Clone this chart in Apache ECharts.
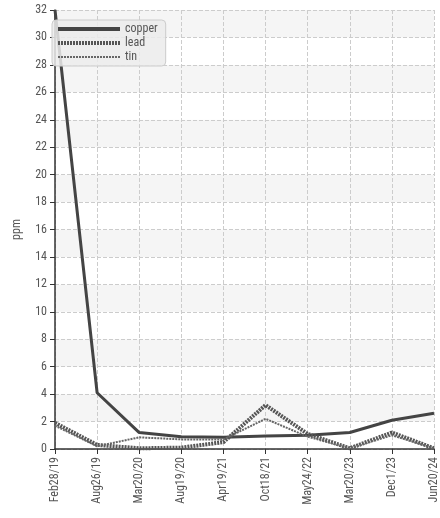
<!DOCTYPE html>
<html><head><meta charset="utf-8">
<script src="https://cdn.jsdelivr.net/npm/echarts@6/dist/echarts.min.js"></script>
<style>html,body{margin:0;padding:0;background:#fff}#c{width:440px;height:518px}</style>
</head><body><div id="c"></div>
<script>
const categories = ["Feb28/19","Aug26/19","Mar20/20","Aug19/20","Apr19/21","Oct18/21","May24/22","Mar20/23","Dec1/23","Jun20/24"];
const copper = [32, 4.1, 1.2, 0.9, 0.85, 0.95, 1.0, 1.2, 2.1, 2.6];
const lead = [1.9, 0.3, 0.05, 0.1, 0.5, 3.2, 1.1, 0.05, 1.2, 0.05];
const tin = [1.7, 0.2, 0.85, 0.7, 0.7, 2.2, 0.9, 0.05, 1.0, 0.05];
const font = "'Liberation Sans Narrow', 'Roboto Condensed', sans-serif";
const chart = echarts.init(document.getElementById('c'));
chart.setOption({
  animation:false,
  textStyle:{fontFamily:font},
  grid:{left:55,right:3,top:10,bottom:69},
  legend:{left:52,top:20,orient:'vertical',itemWidth:62,itemHeight:8,itemGap:2,
    backgroundColor:'rgba(235,235,235,0.85)',borderColor:'#ccc',borderWidth:1,borderRadius:4,padding:[3,8,3,4],
    itemStyle:{opacity:0},
    data:[
      {name:'copper',lineStyle:{width:4,color:'#444',type:'solid'}},
      {name:'lead',lineStyle:{width:4,color:'#555',type:[2,1]}},
      {name:'tin',lineStyle:{width:2,color:'#666',type:[2,1]}}
    ],
    textStyle:{fontFamily:font,fontSize:12,color:'#555'}},
  xAxis:{type:'category',data:categories,boundaryGap:false,
    axisLine:{lineStyle:{color:'#333',width:1.5}},axisTick:{show:true,lineStyle:{color:'#333'}},
    axisLabel:{rotate:90,color:'#555',fontSize:12,fontFamily:font,interval:0},
    splitLine:{show:true,lineStyle:{type:'dashed',color:'#ccc'}}},
  yAxis:{type:'value',min:0,max:32,interval:2,name:'ppm',nameLocation:'middle',nameGap:32,
    nameTextStyle:{color:'#555',fontSize:12,fontFamily:font},
    axisLine:{show:true,lineStyle:{color:'#333',width:1.5}},axisTick:{show:true,lineStyle:{color:'#333'}},
    axisLabel:{color:'#555',fontSize:12,fontFamily:font},
    splitLine:{lineStyle:{type:'dashed',color:'#ccc'}},
    splitArea:{show:true,areaStyle:{color:['#ffffff','#f5f5f5']}}},
  series:[
    {name:'copper',type:'line',data:copper,showSymbol:false,symbol:'none',lineStyle:{color:'#444',width:3},itemStyle:{color:'#444'}},
    {name:'lead',type:'line',data:lead,showSymbol:false,symbol:'none',lineStyle:{color:'#555',width:4,type:[2,1]},itemStyle:{color:'#555'}},
    {name:'tin',type:'line',data:tin,showSymbol:false,symbol:'none',lineStyle:{color:'#666',width:2,type:[2,1]},itemStyle:{color:'#666'}}
  ]
});
</script></body></html>
